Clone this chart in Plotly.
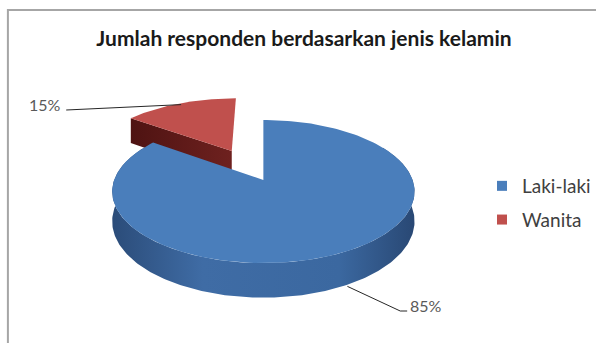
import numpy as np
import plotly.graph_objects as go

# ---- data ----
categories = ["Laki-laki", "Wanita"]
values = [85, 15]
pulls = [0.0, 0.5]
top_colors = ["#4A7EBB", "#C0504D"]
side_colors = [["#2B4C79", "#3F6CA5", "#3B68A0", "#294874"], ["#4E1312", "#6E211F"]]

W, H = 596, 343
# projection parameters (pixel space)
CX, CY, A, B, K, DEPTH = 266.5, 180.0, 151.0, 69.7, 0.161, 29.0


def proj(u, v, drop=0.0):
    u = np.asarray(u, float); v = np.asarray(v, float)
    s = 1.0 / (1.0 + K * v)
    return CX + A * u * s, CY - B * v * s + DEPTH * drop * s


total = float(sum(values))
fracs = [v / total for v in values]
starts = np.cumsum([0] + fracs[:-1]) * 2 * np.pi
ends = np.cumsum(fracs) * 2 * np.pi

fig = go.Figure()

geo = []
for i, cat in enumerate(categories):
    a0, a1 = starts[i], ends[i]
    mid = 0.5 * (a0 + a1)
    ou, ov = pulls[i] * np.sin(mid), pulls[i] * np.cos(mid)
    geo.append((a0, a1, mid, ou, ov))


def top_face(i):
    a0, a1, mid, ou, ov = geo[i]
    th = np.linspace(a0, a1, 200)
    u = np.concatenate([[ou], ou + np.sin(th), [ou]])
    v = np.concatenate([[ov], ov + np.cos(th), [ov]])
    return proj(u, v)


def add_poly(x, y, color=None, grad=None):
    kw = dict(x=list(x), y=list(y), mode="lines", fill="toself",
              line=dict(width=0, color=color or "rgba(0,0,0,0)"),
              hoverinfo="skip", showlegend=False)
    if grad is not None:
        kw["fillgradient"] = grad
    else:
        kw["fillcolor"] = color
    fig.add_trace(go.Scatter(**kw))


# ---- back slice (Wanita): visible cut face then top ----
a0, a1, mid, ou, ov = geo[1]
uu = [ou, ou + np.sin(a0), ou + np.sin(a0), ou]
vv = [ov, ov + np.cos(a0), ov + np.cos(a0), ov]
dd = [0, 0, 1, 1]
sx, sy = proj(uu, vv, np.array(dd))
add_poly(sx, sy, grad=dict(type="horizontal", colorscale=[[0, side_colors[1][0]], [1, side_colors[1][1]]],
                           start=float(min(sx)), stop=float(max(sx))))
tx, ty = top_face(1)
add_poly(tx, ty, color=top_colors[1])

# ---- front slice (Laki-laki): rim side then top ----
a0, a1, mid, ou, ov = geo[0]
th = np.linspace(np.radians(60), np.radians(300), 240)
u_rim = ou + np.sin(th); v_rim = ov + np.cos(th)
x1, y1 = proj(u_rim, v_rim, 0)
x2, y2 = proj(u_rim, v_rim, 1)
sx = np.concatenate([x1, x2[::-1]]); sy = np.concatenate([y1, y2[::-1]])
cs = side_colors[0]
add_poly(sx, sy, grad=dict(type="horizontal",
                           colorscale=[[0, cs[0]], [0.3, cs[1]], [0.75, cs[2]], [1, cs[3]]],
                           start=float(sx.min()), stop=float(sx.max())))
tx, ty = top_face(0)
add_poly(tx, ty, color=top_colors[0])

# ---- legend entries ----
for cat, col in zip(categories, top_colors):
    fig.add_trace(go.Scatter(x=[None], y=[None], mode="markers", name=cat, legendgroup=cat,
                             marker=dict(symbol="square", size=10, color=col)))

# ---- data labels with leader lines ----
label_pos = [(412, 311, "left"), (64, 110, "right")]
anchor_r = [1.0, 0.97]
anchor_drop = [1.0, 0.0]
for i in range(len(categories)):
    a0, a1, mid, ou, ov = geo[i]
    ax_, ay_ = proj(ou + anchor_r[i] * np.sin(mid), ov + anchor_r[i] * np.cos(mid), anchor_drop[i])
    lx, ly, side = label_pos[i]
    if side == "left":
        xs = [float(ax_) + 5, lx - 7, lx]; ys = [float(ay_), ly, ly]
    else:
        xs = [float(ax_), lx + 3]; ys = [float(ay_), ly]
    fig.add_trace(go.Scatter(x=xs, y=ys, mode="lines", line=dict(color="#262626", width=1),
                             hoverinfo="skip", showlegend=False))
    pct = f"{round(fracs[i] * 100)}%"
    fig.add_annotation(x=lx + (1 if side == "left" else 0), y=ly - 6, text=pct, showarrow=False,
                       xanchor="left" if side == "left" else "right", yanchor="middle",
                       font=dict(family="Lato", size=16, color="#595959"))

fig.update_layout(
    width=W, height=H, margin=dict(l=0, r=0, t=0, b=0),
    paper_bgcolor="white", plot_bgcolor="white",
    xaxis=dict(range=[0, W], visible=False, fixedrange=True),
    yaxis=dict(range=[H, 0], visible=False, fixedrange=True),
    title=dict(text="<b>Jumlah responden berdasarkan jenis kelamin</b>", x=304 / W, xanchor="center",
               y=1 - 39 / H, yanchor="middle", font=dict(family="Lato", size=21, color="#1A1A1A")),
    legend=dict(x=488 / W, y=1 - 167 / H, xanchor="left", yanchor="top", tracegroupgap=6,
                font=dict(family="Lato", size=19, color="#404040"), bgcolor="rgba(0,0,0,0)"),
    shapes=[dict(type="rect", xref="paper", yref="paper", x0=8 / W, x1=1.05, y0=-0.05, y1=1 - 10 / H,
                 line=dict(color="#A6A6A6", width=2), fillcolor="rgba(0,0,0,0)", layer="below")],
)

fig.write_html("out.html")
